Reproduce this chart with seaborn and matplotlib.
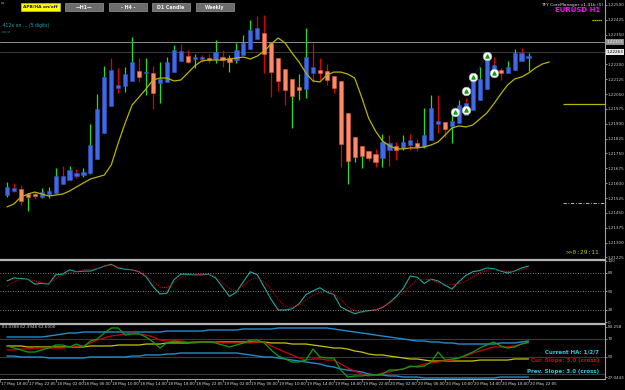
import numpy as np
import matplotlib
matplotlib.use("Agg")
import matplotlib.pyplot as plt
import matplotlib.transforms as mtrans
from matplotlib.patches import Rectangle
import seaborn as sns

# EURUSD H1, 17 May 19:00 .. 20 May 22:00 (76 bars)
opens = [1.21540, 1.21560, 1.21571, 1.21545, 1.21545, 1.21530, 1.21545, 1.21550, 1.21596, 1.21616,
         1.21636, 1.21641, 1.21651, 1.21722, 1.21853, 1.21990, 1.22081, 1.22091, 1.22116, 1.22166,
         1.22156, 1.22156, 1.22106, 1.22111, 1.22161, 1.22217, 1.22242, 1.22227, 1.22227, 1.22232,
         1.22227, 1.22237, 1.22232, 1.22222, 1.22247, 1.22278, 1.22328, 1.22358, 1.22308, 1.22232,
         1.22177, 1.22126, 1.22086, 1.22076, 1.22156, 1.22171, 1.22166, 1.22141, 1.22116, 1.21954,
         1.21833, 1.21788, 1.21762, 1.21747, 1.21727, 1.21767, 1.21788, 1.21778, 1.21793, 1.21803,
         1.21783, 1.21818, 1.21899, 1.21909, 1.21889, 1.21904, 1.21944, 1.21969, 1.22020, 1.22076,
         1.22141, 1.22171, 1.22156, 1.22171, 1.22217, 1.22232]
closes = [1.21581, 1.21576, 1.21510, 1.21530, 1.21535, 1.21555, 1.21560, 1.21636, 1.21636, 1.21666,
          1.21651, 1.21656, 1.21793, 1.21975, 1.22136, 1.22171, 1.22096, 1.22151, 1.22212, 1.22136,
          1.22161, 1.22055, 1.22126, 1.22212, 1.22272, 1.22267, 1.22212, 1.22237, 1.22237, 1.22222,
          1.22262, 1.22222, 1.22212, 1.22272, 1.22308, 1.22373, 1.22384, 1.22252, 1.22161, 1.22116,
          1.22070, 1.22040, 1.22070, 1.22237, 1.22187, 1.22156, 1.22121, 1.22081, 1.21798, 1.21712,
          1.21732, 1.21737, 1.21727, 1.21707, 1.21808, 1.21803, 1.21767, 1.21808, 1.21818, 1.21783,
          1.21843, 1.21980, 1.21914, 1.21874, 1.21914, 1.21995, 1.22005, 1.22126, 1.22126, 1.22232,
          1.22197, 1.22156, 1.22187, 1.22257, 1.22257, 1.22242]
highs = [1.21606, 1.21601, 1.21591, 1.21550, 1.21555, 1.21576, 1.21581, 1.21677, 1.21687, 1.21687,
         1.21672, 1.21677, 1.21899, 1.22050, 1.22192, 1.22232, 1.22182, 1.22187, 1.22338, 1.22232,
         1.22232, 1.22192, 1.22212, 1.22237, 1.22298, 1.22303, 1.22272, 1.22252, 1.22247, 1.22252,
         1.22323, 1.22272, 1.22247, 1.22308, 1.22348, 1.22424, 1.22444, 1.22449, 1.22308, 1.22232,
         1.22177, 1.22126, 1.22151, 1.22384, 1.22308, 1.22232, 1.22202, 1.22141, 1.22116, 1.21954,
         1.21833, 1.21788, 1.21762, 1.21773, 1.21848, 1.21843, 1.21808, 1.21843, 1.21848, 1.21823,
         1.21980, 1.22045, 1.22045, 1.21909, 1.21969, 1.22020, 1.22030, 1.22146, 1.22187, 1.22257,
         1.22237, 1.22182, 1.22217, 1.22278, 1.22283, 1.22257]
lows = [1.21530, 1.21555, 1.21490, 1.21459, 1.21520, 1.21525, 1.21525, 1.21550, 1.21596, 1.21616,
        1.21626, 1.21631, 1.21646, 1.21722, 1.21853, 1.21990, 1.22055, 1.22060, 1.22116, 1.22111,
        1.22045, 1.21975, 1.22005, 1.22111, 1.22161, 1.22217, 1.22207, 1.22182, 1.22212, 1.22207,
        1.22207, 1.22187, 1.22161, 1.22207, 1.22247, 1.22278, 1.22328, 1.22156, 1.22035, 1.22065,
        1.21995, 1.21879, 1.22020, 1.22030, 1.22111, 1.22121, 1.22096, 1.22055, 1.21682, 1.21596,
        1.21707, 1.21677, 1.21712, 1.21682, 1.21682, 1.21687, 1.21717, 1.21767, 1.21767, 1.21762,
        1.21778, 1.21818, 1.21853, 1.21833, 1.21803, 1.21904, 1.21944, 1.21969, 1.22020, 1.22076,
        1.22141, 1.22121, 1.22156, 1.22171, 1.22217, 1.22166]
# direction of the real bar (wick colour): U = up, D = down
bar_dir = list("UDDUDUUUDU" "DUUUUDDUUD" "UDUUUDDUDD" "UDUUUUDDDD"
               "DUUUDDDDDU" "UUDDUDDUDD" "UUDDUUDUUU" "DDUUDU")

# shifted moving average (runs 3 bars past the last candle)
ma = [1.21480, 1.21495, 1.21530, 1.21545, 1.21555, 1.21545, 1.21535, 1.21540, 1.21545, 1.21560,
      1.21581, 1.21601, 1.21621, 1.21631, 1.21641, 1.21692, 1.21803, 1.21904, 1.21995, 1.22035,
      1.22076, 1.22121, 1.22131, 1.22131, 1.22116, 1.22121, 1.22156, 1.22192, 1.22217, 1.22222,
      1.22222, 1.22222, 1.22227, 1.22232, 1.22237, 1.22227, 1.22242, 1.22267, 1.22303, 1.22333,
      1.22308, 1.22257, 1.22212, 1.22156, 1.22116, 1.22111, 1.22146, 1.22161, 1.22161, 1.22151,
      1.22131, 1.22035, 1.21929, 1.21863, 1.21813, 1.21788, 1.21773, 1.21773, 1.21778, 1.21778,
      1.21783, 1.21793, 1.21808, 1.21843, 1.21879, 1.21889, 1.21884, 1.21894, 1.21924, 1.21954,
      1.22000, 1.22050, 1.22096, 1.22126, 1.22136, 1.22156, 1.22182, 1.22202, 1.22212]

# signal circles (bar, price)
sig_bar = [64.5, 66, 66, 67, 69, 70]
sig_price = [1.21959, 1.21969, 1.22065, 1.22136, 1.22242, 1.22156]

# 1.22275 is hidden behind the price boxes in the screenshot
price_ticks = [1.22500, 1.22425, 1.22350, 1.22200, 1.22125, 1.22050, 1.21975, 1.21900,
               1.21825, 1.21750, 1.21675, 1.21600, 1.21525, 1.21450, 1.21375, 1.21300, 1.21225]

# stochastic
stoch_main = [67, 72, 71, 70, 62, 63, 62, 77, 78, 85,
              82, 83, 83, 87, 91, 94, 88, 86, 85, 82,
              74, 58, 46, 47, 69, 78, 78, 77, 77, 78,
              72, 57, 42, 49, 66, 82, 77, 57, 37, 20,
              20, 22, 30, 45, 51, 56, 49, 45, 25, 19,
              14, 17, 19, 20, 24, 32, 42, 55, 75, 73,
              63, 70, 67, 60, 54, 66, 76, 82, 84, 88,
              87, 83, 80, 83, 88, 91]
stoch_signal = [58, 66, 69, 70, 67, 64, 63, 71, 76, 80,
                82, 85, 86, 87, 91, 93, 90, 87, 85, 82,
                75, 67, 57, 56, 64, 73, 76, 78, 78, 78,
                74, 64, 55, 51, 60, 69, 72, 66, 53, 37,
                26, 24, 28, 36, 44, 48, 50, 46, 37, 25,
                19, 16, 18, 20, 25, 31, 39, 47, 59, 69,
                70, 69, 64, 62, 61, 63, 67, 74, 80, 84,
                86, 84, 82, 83, 85, 87]

# lower indicator window
ind_green = [61.9, 59.6, 57.4, 55.1, 55.1, 57.4, 59.6, 63.0, 63.0, 60.8,
             64.1, 60.8, 67.5, 69.8, 76.5, 82.1, 82.1, 74.2, 75.4, 75.4,
             72.0, 66.4, 59.6, 65.3, 67.5, 66.4, 65.3, 65.3, 66.4, 66.4,
             65.3, 63.0, 60.8, 63.0, 65.3, 68.6, 68.6, 65.3, 57.4, 50.6,
             47.3, 43.9, 43.9, 46.1, 58.5, 49.5, 48.4, 48.4, 34.9, 27.0,
             28.2, 28.2, 29.3, 29.3, 30.4, 34.9, 34.9, 36.0, 39.4, 38.3,
             39.4, 43.9, 55.1, 46.1, 47.3, 48.4, 51.8, 55.1, 59.6, 63.0,
             66.4, 61.9, 59.6, 60.8, 64.1, 66.4]
ind_red = [57.4, 57.4, 58.5, 58.5, 59.6, 59.6, 59.6, 59.6, 59.6, 60.8,
           61.9, 61.9, 65.3, 68.6, 70.9, 73.1, 74.2, 75.4, 76.5, 75.4,
           74.2, 72.0, 68.6, 67.5, 67.5, 67.5, 66.4, 66.4, 66.4, 66.4,
           66.4, 65.3, 65.3, 65.3, 65.3, 65.3, 66.4, 66.4, 61.9, 58.5,
           55.1, 51.8, 48.4, 46.1, 47.3, 47.3, 46.1, 46.1, 41.7, 37.2,
           33.8, 30.4, 28.2, 29.3, 31.5, 32.7, 34.9, 36.0, 38.3, 39.4,
           41.7, 42.8, 43.9, 45.0, 46.1, 48.4, 50.6, 54.0, 56.3, 58.5,
           60.8, 60.8, 60.8, 61.9, 64.1, 65.3]
ind_upper = [72.0, 72.0, 72.0, 72.0, 72.0, 72.0, 73.1, 74.2, 75.4, 76.5,
             76.5, 77.6, 77.6, 77.6, 77.6, 77.6, 77.6, 77.6, 77.6, 77.6,
             77.6, 77.6, 77.6, 78.7, 78.7, 78.7, 78.7, 78.7, 78.7, 79.9,
             79.9, 79.9, 79.9, 79.9, 81.0, 81.0, 81.0, 81.0, 81.0, 82.1,
             82.1, 82.1, 82.1, 82.1, 82.1, 82.1, 82.1, 81.0, 79.9, 78.7,
             77.6, 76.5, 75.4, 74.2, 73.1, 72.0, 70.9, 69.8, 68.6, 67.5,
             67.5, 66.4, 66.4, 65.3, 65.3, 64.1, 64.1, 64.1, 64.1, 64.1,
             64.1, 65.3, 65.3, 65.3, 66.4, 67.5]
ind_lower = [50.6, 50.6, 49.5, 49.5, 49.5, 49.5, 48.4, 48.4, 48.4, 48.4,
             48.4, 48.4, 49.5, 49.5, 49.5, 49.5, 49.5, 49.5, 50.6, 50.6,
             51.8, 51.8, 51.8, 52.9, 52.9, 54.0, 54.0, 54.0, 54.0, 54.0,
             54.0, 54.0, 54.0, 54.0, 52.9, 51.8, 50.6, 49.5, 49.5, 48.4,
             47.3, 46.1, 45.0, 43.9, 42.8, 41.7, 39.4, 38.3, 36.0, 34.9,
             33.8, 32.7, 30.4, 29.3, 29.3, 28.2, 28.2, 27.0, 27.0, 27.0,
             25.9, 25.9, 25.9, 25.9, 25.9, 25.9, 25.9, 25.9, 25.9, 25.9,
             25.9, 27.0, 27.0, 27.0, 27.0, 27.0]
ind_mid = [61.9, 61.9, 61.9, 60.8, 60.8, 60.8, 60.8, 60.8, 60.8, 60.8,
           60.8, 60.8, 61.9, 61.9, 61.9, 61.9, 63.0, 63.0, 63.0, 63.0,
           64.1, 64.1, 64.1, 65.3, 65.3, 65.3, 65.3, 66.4, 66.4, 66.4,
           66.4, 66.4, 66.4, 66.4, 66.4, 66.4, 66.4, 66.4, 65.3, 65.3,
           65.3, 64.1, 64.1, 64.1, 63.0, 61.9, 60.8, 59.6, 59.6, 58.5,
           56.3, 55.1, 52.9, 51.8, 51.8, 50.6, 49.5, 48.4, 47.3, 47.3,
           46.1, 45.0, 45.0, 45.0, 45.0, 45.0, 45.0, 45.0, 46.1, 46.1,
           46.1, 46.1, 46.1, 47.3, 47.3, 47.3]

time_labels = ["17 May 18:00", "17 May 22:05", "18 May 02:00", "18 May 06:00", "18 May 10:00",
               "18 May 14:00", "18 May 18:00", "18 May 22:05", "19 May 02:00", "19 May 06:00",
               "19 May 10:00", "19 May 14:00", "19 May 18:00", "19 May 22:05", "20 May 02:00",
               "20 May 06:00", "20 May 10:00", "20 May 14:00", "20 May 18:00", "20 May 22:05"]
time_label_bars = [-1, 3, 7, 11, 15, 19, 23, 27, 31, 35, 39, 43, 47, 51, 55, 59, 63, 67, 71, 75]

sns.set_theme(style="dark", rc={"axes.facecolor": "black", "figure.facecolor": "black",
                                "axes.grid": False})
plt.rcParams["font.family"] = ["DejaVu Sans"]

W, H = 625, 390
fig = plt.figure(figsize=(6.25, 3.9), dpi=100)


def box(x0, y0, x1, y1):
    return [x0 / W, 1 - y1 / H, (x1 - x0) / W, (y1 - y0) / H]


ax1 = fig.add_axes(box(0, 0, 605, 258))
ax2 = fig.add_axes(box(0, 260, 605, 323), sharex=ax1)
ax3 = fig.add_axes(box(0, 324, 605, 379), sharex=ax1)

for ax in (ax1, ax2, ax3):
    ax.set_facecolor("black")
    for s in ax.spines.values():
        s.set_visible(False)
    ax.spines["right"].set_visible(True)
    ax.spines["right"].set_color("#a0a0a0")
    ax.spines["right"].set_linewidth(0.8)
    ax.yaxis.tick_right()
    ax.tick_params(axis="y", colors="#c8c8c8", labelsize=3.0, length=1.5, width=0.5, pad=0.6,
                   left=False, right=True)
    ax.tick_params(axis="x", bottom=False, labelbottom=False)
    ax.set_xlabel("")
    ax.set_ylabel("")

ax1.set_xlim(-0.43, 86.0)

# ---- main price window ----
o = np.array(opens)
c = np.array(closes)
idx = np.arange(len(o))
up = c >= o
body = np.where(np.abs(c - o) < 0.00005, 0.00005, c - o)
wick_col = ["#20e020" if d == "U" else "#e00000" for d in bar_dir]
ax1.vlines(idx, lows, highs, colors=wick_col, lw=0.9, zorder=2)
ax1.bar(idx[up], body[up], bottom=o[up], width=0.6, color="#3f6ae6",
        edgecolor="#2c52c8", lw=0.4, zorder=3)
ax1.bar(idx[~up], body[~up], bottom=o[~up], width=0.6, color="#ff8a68",
        edgecolor="#e05a3a", lw=0.4, zorder=3)

sns.lineplot(x=np.arange(len(ma)), y=ma, ax=ax1, color="#b8b400", lw=0.9, zorder=4)

ax1.plot(sig_bar[2:5], sig_price[2:5], color="#2a3fa8", lw=0.6, ls=(0, (1, 1)), zorder=4)
ax1.scatter(sig_bar, sig_price, s=38, facecolor="white", edgecolor="#b0b0b0", lw=0.5, zorder=5)
ax1.scatter(sig_bar, sig_price, s=5, marker="^", color="#10a010", zorder=6)

ax1.axhline(1.22313, color="#8c8c8c", lw=0.7, zorder=1)
ax1.axhline(1.22263, color="#3c3c3c", lw=0.7, zorder=1)
ax1.hlines(1.22000, 80, 86, color="#b8b400", lw=0.9)
ax1.hlines(1.21500, 80, 86, color="#d8d8d8", lw=0.6, ls=(0, (4, 2, 1, 2)))
ax1.hlines(1.22424, 84.1, 85.6, color="#e0e000", lw=0.9, ls=(0, (1, 0.6)))

ax1.set_ylim(1.21222, 1.22525)
ax1.set_yticks(price_ticks)
ax1.set_yticklabels([f"{p:.5f}" for p in price_ticks])
blend1 = mtrans.blended_transform_factory(ax1.transAxes, ax1.transData)
ax1.text(1.003, 1.22313, "1.22313", transform=blend1, fontsize=3.0, color="white", va="center",
         bbox=dict(facecolor="#8c8c8c", edgecolor="none", pad=0.5))
ax1.text(1.003, 1.22263, "1.22263", transform=blend1, fontsize=3.0, color="black", va="center",
         bbox=dict(facecolor="#e8e8e8", edgecolor="none", pad=0.5))

# ---- stochastic window ----
sns.lineplot(x=idx, y=stoch_main, ax=ax2, color="#20a8a0", lw=0.8)
sns.lineplot(x=idx, y=stoch_signal, ax=ax2, color="#c00000", lw=0.8, ls=(0, (1, 1)))
for lvl in (80, 50, 20):
    ax2.axhline(lvl, color="#a8a8a8", lw=0.6, ls=(0, (1, 2)))
ax2.set_ylim(-1.1, 101)
ax2.set_yticks([100, 80, 50, 20, 0])
ax2.set_yticklabels(["100", "80", "50", "20", "0"])
ax2.spines["top"].set_visible(True)
ax2.spines["top"].set_color("#b4b4b4")
ax2.spines["top"].set_linewidth(1.6)

# ---- lower indicator window ----
for lvl in (70, 50, 30):
    ax3.axhline(lvl, color="#3a3a3a", lw=0.8)
sns.lineplot(x=idx, y=ind_upper, ax=ax3, color="#1f8ccc", lw=1.0)
sns.lineplot(x=idx, y=ind_lower, ax=ax3, color="#1f8ccc", lw=1.0)
sns.lineplot(x=idx, y=ind_mid, ax=ax3, color="#c8c400", lw=0.9)
sns.lineplot(x=idx, y=ind_red, ax=ax3, color="#d00000", lw=0.9)
sns.lineplot(x=idx, y=ind_green, ax=ax3, color="#10a010", lw=0.9)
ax3.set_ylim(24.8, 86.6)
ax3.set_yticks([83.258, 70, 50, 27.0443])
ax3.set_yticklabels(["83.258", "70", "50", "27.0443"])
ax3.spines["top"].set_visible(True)
ax3.spines["top"].set_color("#b4b4b4")
ax3.spines["top"].set_linewidth(1.6)
ax3.spines["bottom"].set_visible(True)
ax3.spines["bottom"].set_color("#a0a0a0")
ax3.spines["bottom"].set_linewidth(0.8)
ax3.set_xticks(time_label_bars)
ax3.tick_params(axis="x", bottom=True, length=2, width=0.5, color="#a0a0a0", labelbottom=False)
blend3 = mtrans.blended_transform_factory(ax3.transData, ax3.transAxes)
for b, lab in zip(time_label_bars, time_labels):
    ax3.text(b + 0.15, -0.09, lab, transform=blend3, fontsize=2.75, color="#e0e0e0",
             va="center", ha="left", clip_on=False)
ax3.text(0.004, 0.94, "83.0388 62.3948 62.6000", transform=ax3.transAxes, fontsize=3.0,
         color="#d0d0d0", va="center")
ax3.text(0.99, 0.49, "Current HA: 1/2/7", transform=ax3.transAxes, fontsize=4.0,
         color="#20d0e0", weight="bold", ha="right", va="center")
ax3.text(0.99, 0.33, "Cur. Slope: 3.0 (cross)", transform=ax3.transAxes, fontsize=4.0,
         color="#e00000", weight="bold", ha="right", va="center")
ax3.text(0.99, 0.14, "Prev. Slope: 3.0 (cross)", transform=ax3.transAxes, fontsize=4.0,
         color="#20d0e0", weight="bold", ha="right", va="center")

# ---- overlay: buttons and header texts (pixel coordinates) ----
ov = fig.add_axes([0, 0, 1, 1], zorder=10)
ov.set_xlim(0, W)
ov.set_ylim(H, 0)
ov.axis("off")
ov.patch.set_alpha(0)
ov.add_patch(Rectangle((21, 3), 39, 8, facecolor="#ffff00", edgecolor="#c8c800", lw=0.5))
ov.text(40.5, 7.2, "APB/HA on/off", fontsize=3.2, color="#1010a0", weight="bold",
        ha="center", va="center")
for x0, lab in zip([65, 109, 152, 196], ["\u2014H1\u2014", "- H4 -", "D1 Candle", "Weekly"]):
    ov.add_patch(Rectangle((x0, 3), 38, 8, facecolor="#6c6c6c", edgecolor="#9a9a9a", lw=0.5))
    ov.text(x0 + 19, 7.2, lab, fontsize=3.4, color="#f0f0f0", weight="bold",
            ha="center", va="center")
ov.text(1, 3, "cs", fontsize=3.0, color="#c0c0c0", va="center")
ov.text(1, 26, ".412x on ... (5 digits)", fontsize=3.3, color="#20a8b0", va="center")
ov.text(1, 32, "===", fontsize=3.0, color="#20a8b0", va="center")
ov.text(603, 5, "TFY CoreManager v1.41b (5)", fontsize=3.2, color="#e0e0e0", ha="right", va="center")
ov.text(600, 10.5, "EURUSD H1", fontsize=5.0, color="#ff00ff", weight="bold", ha="right", va="center")
ov.text(583, 253, ">>0:29:11", fontsize=4.4, color="#c8c400", family="DejaVu Sans Mono",
        ha="center", va="center")

fig.savefig("out.png", dpi=100, facecolor="black")
